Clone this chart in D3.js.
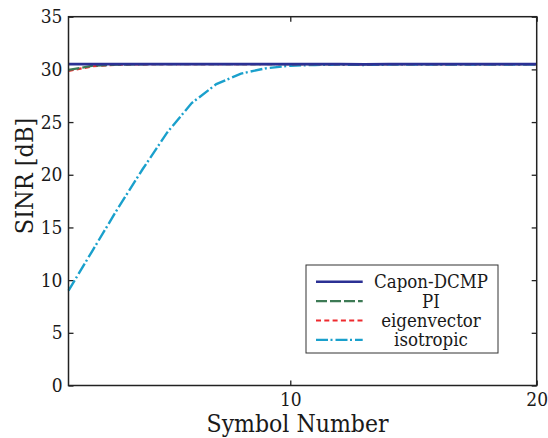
<!DOCTYPE html>
<html>
<head>
<meta charset="utf-8">
<script src="https://cdn.jsdelivr.net/npm/d3@7"></script>
<style>
  body { margin:0; background:#fff; }
  svg text { fill:#1a1a1a; }
  .axis .domain { display:none; }
  .axis line { stroke:#222; stroke-width:1.3; }
</style>
</head>
<body>
<div id="canvas"></div>
<script>
// data
var symbols = d3.range(1, 21);
var caponDCMP   = [30.5,30.5,30.5,30.5,30.5,30.5,30.5,30.5,30.5,30.5,30.5,30.5,30.48,30.5,30.5,30.5,30.5,30.5,30.5,30.5];
var pi          = [29.95,30.35,30.45,30.48,30.5,30.5,30.5,30.5,30.5,30.5,30.5,30.5,30.48,30.5,30.5,30.5,30.5,30.5,30.5,30.5];
var eigenvector = [29.85,30.3,30.45,30.48,30.5,30.5,30.5,30.5,30.5,30.5,30.5,30.5,30.48,30.5,30.5,30.5,30.5,30.5,30.5,30.5];
var isotropic   = [9.0,12.9,16.8,20.5,24.0,26.8,28.6,29.6,30.1,30.35,30.42,30.45,30.42,30.45,30.45,30.45,30.45,30.45,30.45,30.45];
var yTicks = [0,5,10,15,20,25,30,35];
var xTicks = [10,20];
var seriesNames = ['Capon-DCMP','PI','eigenvector','isotropic'];

var series = [
    {name:seriesNames[0], values:caponDCMP,   color:'#2b3094', dash:null,          width:2.6},
    {name:seriesNames[1], values:pi,          color:'#3d7a55', dash:'11,3',        width:2.2},
    {name:seriesNames[2], values:eigenvector, color:'#ee2a2e', dash:'5,3.3',       width:2.2},
    {name:seriesNames[3], values:isotropic,   color:'#1aa0cc', dash:'12,2.5,2,3',  width:2.4}
];

var m = {t:16.7, r:11.3, b:52.5, l:68.5};
var outerWidth = 548, outerHeight = 438;
var w = outerWidth - m.l - m.r,
    h = outerHeight - m.t - m.b;

var svg = d3.select('#canvas')
    .append('svg')
    .attr('width', outerWidth)
    .attr('height', outerHeight);
var plot = svg.append('g')
    .attr('transform','translate(' + m.l + ',' + m.t + ')');

var scaleX = d3.scaleLinear().domain([1,20]).range([0,w]);
var scaleY = d3.scaleLinear().domain([0,35]).range([h,0]);

var serif = "'DejaVu Serif Condensed','DejaVu Serif',serif";

// axes, ticks pointing inwards
plot.append('g').attr('class','axis axis-y')
    .call(d3.axisLeft(scaleY).tickValues(yTicks).tickSize(-5).tickPadding(6));
plot.append('g').attr('class','axis')
    .attr('transform','translate(' + w + ',0)')
    .call(d3.axisRight(scaleY).tickValues(yTicks).tickSize(-5).tickFormat(''));
plot.append('g').attr('class','axis axis-x')
    .attr('transform','translate(0,' + h + ')')
    .call(d3.axisBottom(scaleX).tickValues(xTicks).tickSize(-5).tickPadding(7));
plot.append('g').attr('class','axis')
    .call(d3.axisTop(scaleX).tickValues(xTicks).tickSize(-5).tickFormat(''));
plot.selectAll('.axis').attr('font-family', serif).attr('font-size', 19);

// lines, capon on top
var line = d3.line()
    .x(function(d,i){ return scaleX(symbols[i]); })
    .y(function(d){ return scaleY(d); });

plot.selectAll('.series')
    .data(series.slice().reverse())
    .enter()
    .append('path')
    .attr('class','series')
    .attr('d', function(d){ return line(d.values); })
    .style('fill','none')
    .style('stroke', function(d){ return d.color; })
    .style('stroke-width', function(d){ return d.width; })
    .style('stroke-dasharray', function(d){ return d.dash; });

// frame
plot.append('rect')
    .attr('width', w).attr('height', h)
    .style('fill','none').style('stroke','#222').style('stroke-width',1.5);

// axis labels
svg.append('text')
    .attr('x', 297.5).attr('y', 432)
    .attr('text-anchor','middle')
    .attr('font-family', serif)
    .style('font-size','24.5px')
    .text('Symbol Number');
svg.append('text')
    .attr('transform','translate(33,176) rotate(-90)')
    .attr('text-anchor','middle')
    .attr('font-family', serif)
    .style('font-size','25px')
    .text('SINR [dB]');

// legend
var legend = svg.append('g').attr('transform','translate(306,265)');
legend.append('rect')
    .attr('width',192).attr('height',88)
    .style('fill','#fff').style('stroke','#333').style('stroke-width',1);
var items = legend.selectAll('.item')
    .data(series)
    .enter()
    .append('g')
    .attr('class','item')
    .attr('transform', function(d,i){ return 'translate(0,' + (16.7 + i*19.4) + ')'; });
items.append('line')
    .attr('x1',10).attr('x2',56.7)
    .style('stroke', function(d){ return d.color; })
    .style('stroke-width', function(d){ return d.width; })
    .style('stroke-dasharray', function(d){ return d.dash; });
items.append('text')
    .attr('x',125).attr('y',6.5)
    .attr('text-anchor','middle')
    .attr('font-family', serif)
    .style('font-size','18.5px')
    .text(function(d){ return d.name; });
</script>
</body>
</html>
